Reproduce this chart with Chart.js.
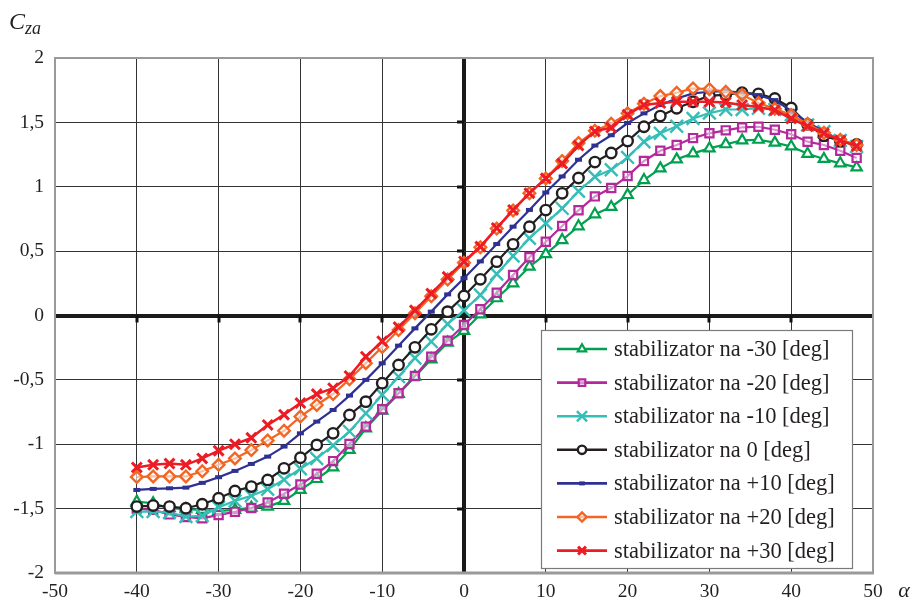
<!DOCTYPE html>
<html>
<head>
<meta charset="utf-8">
<script src="https://cdn.jsdelivr.net/npm/chart.js@4.4.1/dist/chart.umd.min.js"></script>
<style>
  html, body { margin: 0; padding: 0; background: #fff; }
  #wrap { width: 914px; height: 604px; }
</style>
</head>
<body>
<div id="wrap"><canvas id="czaChart" width="914" height="604"></canvas></div>
<script>
// napadni ugao [deg]
const alfa = [-40, -38, -36, -34, -32, -30, -28, -26, -24, -22, -20, -18, -16, -14, -12, -10, -8, -6, -4, -2,
  0, 2, 4, 6, 8, 10, 12, 14, 16, 18, 20, 22, 24, 26, 28, 30, 32, 34, 36, 38, 40, 42, 44, 46, 48];

// Cza za razlicite otklone stabilizatora
const czaM30 = [-1.446, -1.458, -1.497, -1.505, -1.51, -1.518, -1.51, -1.492, -1.484, -1.44, -1.355, -1.27, -1.18, -1.044, -0.876,
  -0.739, -0.609, -0.475, -0.34, -0.211, -0.12, 0.009, 0.134, 0.25, 0.379, 0.477, 0.586, 0.693, 0.786, 0.843,
  0.936, 1.052, 1.143, 1.213, 1.259, 1.298, 1.33, 1.36, 1.365, 1.343, 1.313, 1.256, 1.216, 1.182, 1.15];
const czaM20 = [-1.5, -1.51, -1.545, -1.565, -1.575, -1.549, -1.525, -1.495, -1.452, -1.384, -1.313, -1.229, -1.131, -0.998, -0.863,
  -0.728, -0.604, -0.47, -0.32, -0.196, -0.074, 0.048, 0.177, 0.314, 0.452, 0.573, 0.695, 0.817, 0.925, 0.99,
  1.083, 1.2, 1.28, 1.324, 1.378, 1.415, 1.438, 1.461, 1.466, 1.443, 1.408, 1.35, 1.324, 1.279, 1.224];
const czaM10 = [-1.523, -1.523, -1.53, -1.562, -1.556, -1.49, -1.44, -1.4, -1.35, -1.275, -1.19, -1.11, -1.01, -0.9, -0.76,
  -0.615, -0.475, -0.33, -0.203, -0.066, 0.04, 0.159, 0.322, 0.462, 0.6, 0.716, 0.832, 0.965, 1.078, 1.132,
  1.228, 1.35, 1.415, 1.47, 1.53, 1.572, 1.6, 1.6, 1.61, 1.6, 1.56, 1.479, 1.427, 1.36, 1.313];
const cza0 = [-1.484, -1.476, -1.484, -1.497, -1.466, -1.419, -1.363, -1.329, -1.277, -1.187, -1.105, -1.005, -0.915, -0.773, -0.669,
  -0.526, -0.384, -0.247, -0.107, 0.03, 0.152, 0.281, 0.418, 0.553, 0.69, 0.819, 0.949, 1.068, 1.192, 1.262,
  1.355, 1.466, 1.549, 1.609, 1.66, 1.706, 1.716, 1.73, 1.722, 1.686, 1.612, 1.485, 1.397, 1.356, 1.328];
const czaP10 = [-1.355, -1.347, -1.342, -1.337, -1.3, -1.256, -1.207, -1.153, -1.096, -1.018, -0.915, -0.824, -0.734, -0.622, -0.5,
  -0.371, -0.234, -0.1, 0.03, 0.164, 0.29, 0.42, 0.555, 0.69, 0.82, 0.955, 1.08, 1.21, 1.32, 1.4,
  1.495, 1.57, 1.634, 1.686, 1.725, 1.738, 1.742, 1.73, 1.712, 1.673, 1.59, 1.5, 1.43, 1.36, 1.32];
const czaP20 = [-1.255, -1.25, -1.25, -1.25, -1.21, -1.16, -1.11, -1.045, -0.97, -0.895, -0.785, -0.695, -0.61, -0.495, -0.37,
  -0.245, -0.113, 0.017, 0.15, 0.28, 0.41, 0.53, 0.675, 0.815, 0.95, 1.065, 1.2, 1.34, 1.435, 1.49,
  1.57, 1.645, 1.704, 1.73, 1.764, 1.758, 1.738, 1.715, 1.65, 1.605, 1.557, 1.49, 1.42, 1.365, 1.324];
const czaP30 = [-1.18, -1.16, -1.15, -1.16, -1.11, -1.05, -1.0, -0.95, -0.85, -0.77, -0.68, -0.61, -0.565, -0.47, -0.32,
  -0.2, -0.09, 0.04, 0.17, 0.3, 0.42, 0.535, 0.68, 0.82, 0.95, 1.065, 1.18, 1.32, 1.43, 1.46,
  1.56, 1.635, 1.65, 1.66, 1.66, 1.66, 1.655, 1.635, 1.62, 1.595, 1.53, 1.47, 1.415, 1.36, 1.316];

const nazivi = ['stabilizator na -30 [deg]', 'stabilizator na -20 [deg]', 'stabilizator na -10 [deg]',
  'stabilizator na 0 [deg]', 'stabilizator na +10 [deg]', 'stabilizator na +20 [deg]', 'stabilizator na +30 [deg]'];
const xTicks = [-50, -40, -30, -20, -10, 0, 10, 20, 30, 40, 50];
const yTicks = [-2, -1.5, -1, -0.5, 0, 0.5, 1, 1.5, 2];

const FONT = "'Liberation Serif', 'DejaVu Serif', serif";

// izgled linija i markera
const stilovi = [
  { boja: '#00a04f', oblik: 'triangle', r: 6, bw: 2.2, fill: '#ffffff' },
  { boja: '#b3289b', oblik: 'rect', r: 5.8, bw: 2.2, fill: 'rgba(255,255,255,0.5)' },
  { boja: '#35beb6', oblik: 'crossRot', r: 9, bw: 2.4, fill: '#35beb6' },
  { boja: '#231f20', oblik: 'circle', r: 5.2, bw: 2.4, fill: '#ffffff' },
  { boja: '#2e3192', oblik: 'line', r: 3.5, bw: 4, fill: '#2e3192' },
  { boja: '#f26522', oblik: 'rectRot', r: 5.8, bw: 2.4, fill: 'rgba(255,255,255,0.6)' },
  { boja: '#ed1c24', oblik: 'crossRot', r: 7, bw: 3, fill: '#ed1c24' }
];
const serije = [czaM30, czaM20, czaM10, cza0, czaP10, czaP20, czaP30];

const datasets = serije.map((vals, i) => {
  const s = stilovi[i];
  return {
    label: nazivi[i],
    data: alfa.map((a, k) => ({ x: a, y: vals[k] })),
    borderColor: s.boja,
    borderWidth: i === 6 ? 2.5 : 2.2,
    backgroundColor: s.fill,
    pointStyle: s.oblik,
    pointRadius: s.r,
    pointBorderWidth: s.bw,
    pointBorderColor: s.boja,
    pointBackgroundColor: s.fill,
    tension: 0,
    order: 6 - i
  };
});

function crtajMarker(ctx, s, x, y) {
  ctx.fillStyle = s.fill;
  ctx.strokeStyle = s.boja;
  ctx.lineWidth = s.bw;
  if (Chart.helpers && Chart.helpers.drawPoint) {
    Chart.helpers.drawPoint(ctx, { pointStyle: s.oblik, radius: s.r, rotation: 0, borderWidth: s.bw }, x, y);
  } else {
    ctx.beginPath();
    ctx.arc(x, y, s.r, 0, Math.PI * 2);
    ctx.fill();
    ctx.stroke();
  }
}

const okvir = {
  id: 'okvir',
  beforeDatasetsDraw(chart) {
    const { ctx, chartArea: a, scales: { x, y } } = chart;
    const x0 = x.getPixelForValue(0);
    const y0 = y.getPixelForValue(0);
    ctx.save();
    // siv okvir oko polja
    ctx.strokeStyle = '#9a9a9a';
    ctx.lineWidth = 2;
    ctx.strokeRect(a.left, a.top, a.right - a.left, a.bottom - a.top);
    ctx.lineWidth = 3;
    ctx.beginPath();
    ctx.moveTo(a.left, a.bottom);
    ctx.lineTo(a.right + 1, a.bottom);
    ctx.stroke();
    // zarezi na osama kroz nulu
    ctx.fillStyle = '#111';
    xTicks.forEach(v => {
      if (v === 0 || Math.abs(v) === 50) return;
      const px = Math.round(x.getPixelForValue(v));
      ctx.fillRect(px - 1.5, y0, 3, 7);
    });
    yTicks.forEach(v => {
      if (v === 0 || Math.abs(v) === 2) return;
      const py = Math.round(y.getPixelForValue(v));
      ctx.fillRect(x0 - 7, py - 1.5, 7, 3);
    });
    ctx.restore();
  },
  afterDraw(chart) {
    const { ctx } = chart;
    ctx.save();
    // oznake osa
    ctx.fillStyle = '#231f20';
    ctx.textBaseline = 'alphabetic';
    ctx.textAlign = 'left';
    ctx.font = 'italic 24px ' + FONT;
    ctx.fillText('C', 9, 29);
    ctx.font = 'italic 18px ' + FONT;
    ctx.fillText('za', 25, 34);
    ctx.font = 'italic 22px ' + FONT;
    ctx.textAlign = 'center';
    ctx.fillText('\u03b1', 904, 597);

    // legenda
    const lx = 541, ly = 330, lw = 311, lh = 238;
    ctx.fillStyle = '#ffffff';
    ctx.fillRect(lx, ly, lw, lh);
    ctx.strokeStyle = '#7a7a7a';
    ctx.lineWidth = 1.2;
    ctx.strokeRect(lx + 0.5, ly + 0.5, lw, lh);
    ctx.font = '22.5px ' + FONT;
    ctx.textAlign = 'left';
    ctx.textBaseline = 'middle';
    nazivi.forEach((t, i) => {
      const s = stilovi[i];
      const cy = 349 + i * 33.6;
      ctx.strokeStyle = s.boja;
      ctx.lineWidth = 2.6;
      ctx.beginPath();
      ctx.moveTo(557, cy);
      ctx.lineTo(607, cy);
      ctx.stroke();
      crtajMarker(ctx, Object.assign({}, s, { r: s.r * 0.8 }), 582, cy);
      ctx.fillStyle = '#231f20';
      ctx.fillText(t, 614, cy + 1);
    });
    ctx.restore();
  }
};

Chart.defaults.font.family = FONT;
Chart.defaults.color = '#231f20';

new Chart(document.getElementById('czaChart'), {
  type: 'line',
  data: { datasets },
  options: {
    responsive: false,
    animation: false,
    layout: { padding: { top: 58, right: 41, left: 0, bottom: 0 } },
    plugins: { legend: { display: false }, tooltip: { enabled: false } },
    scales: {
      x: {
        type: 'linear',
        min: -50,
        max: 50,
        afterBuildTicks: s => { s.ticks = xTicks.map(v => ({ value: v })); },
        afterFit: s => { s.height = 31; },
        border: { display: false },
        grid: {
          drawTicks: false,
          color: c => (c.tick.value === 0 ? '#1a1a1a' : (Math.abs(c.tick.value) === 50 ? 'rgba(0,0,0,0)' : '#333333')),
          lineWidth: c => (c.tick.value === 0 ? 4 : 1)
        },
        ticks: { padding: 7, font: { size: 19.5 }, color: '#231f20', maxRotation: 0 }
      },
      y: {
        min: -2,
        max: 2,
        afterBuildTicks: s => { s.ticks = yTicks.map(v => ({ value: v })); },
        afterFit: s => { s.width = 55; },
        border: { display: false },
        grid: {
          drawTicks: false,
          color: c => (c.tick.value === 0 ? '#1a1a1a' : (Math.abs(c.tick.value) === 2 ? 'rgba(0,0,0,0)' : '#333333')),
          lineWidth: c => (c.tick.value === 0 ? 4 : 1)
        },
        ticks: {
          padding: 11,
          font: { size: 19.5 },
          color: '#231f20',
          callback: v => String(v).replace('.', ',')
        }
      }
    }
  },
  plugins: [okvir]
});
</script>
</body>
</html>
